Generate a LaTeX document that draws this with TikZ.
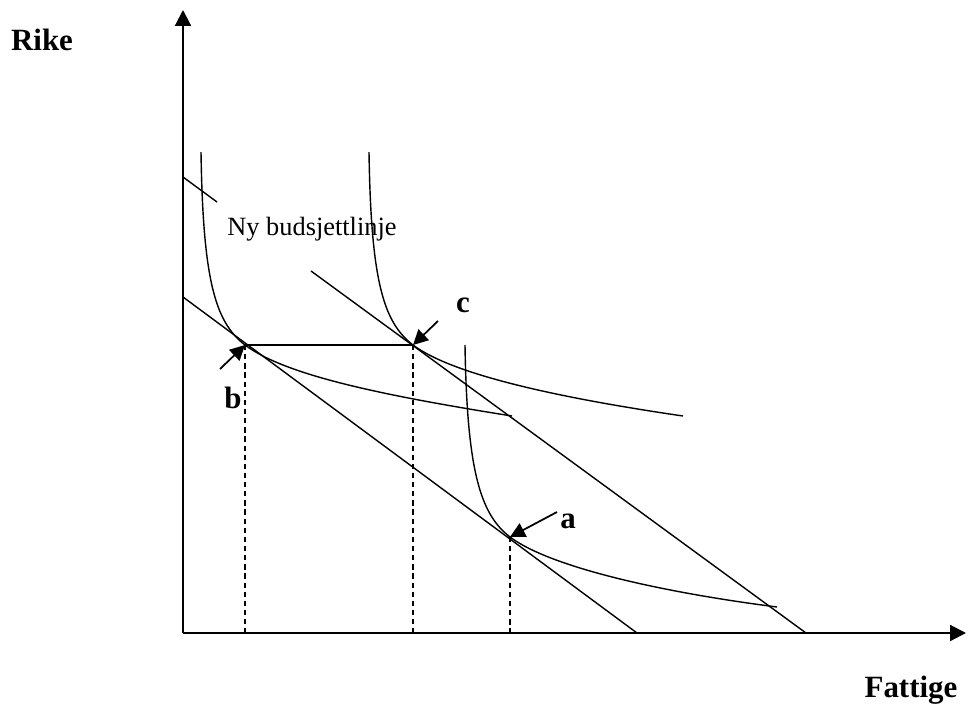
\documentclass[tikz,border=0pt]{standalone}
\usepackage{fontspec}
\setmainfont{Liberation Serif}
\usetikzlibrary{arrows.meta}

\begin{document}
\begin{tikzpicture}[x=0.02cm,y=-0.02cm,
	axis/.style={line width=1.2pt,-{Triangle[length=9pt,width=9pt]}},
	curve/.style={line width=0.8pt},
	guide/.style={line width=0.8pt,dash pattern=on 3pt off 2.2pt},
	pointer/.style={line width=1pt,-{Triangle[length=8.5pt,width=8.5pt]}},
	boldlabel/.style={anchor=base,font=\fontsize{17.6}{20}\selectfont\bfseries},
	linelabel/.style={anchor=base,font=\fontsize{15}{18}\selectfont}]
			\useasboundingbox (0,0) rectangle (968,704);
			% axes
			\coordinate (O) at (183,633);
			\coordinate (ytop) at (183,10);
			\coordinate (xend) at (966,633);
			\draw[axis] (O) -- (ytop);
			\draw[axis] (O) -- (xend);
			\node[boldlabel](rike) at (42,50){Rike};
			\node[boldlabel](fattige) at (911,697){Fattige};
			% tangency points
			\coordinate (b) at (245,345);
			\coordinate (c) at (413,345);
			\coordinate (a) at (510,537);
			\coordinate (bf) at (245,633);
			\coordinate (cf) at (413,633);
			\coordinate (af) at (510,633);
			% budget lines
			\coordinate (old1) at (183,297);
			\coordinate (old2) at (637,633);
			\coordinate (new1) at (183,177);
			\coordinate (new2) at (217,202);
			\coordinate (new3) at (311,271);
			\coordinate (new4) at (806,633);
			\draw[curve] (old1) -- (old2);
			\draw[curve] (new1) -- (new2);
			\draw[curve] (new3) -- (new4);
			\node[linelabel](nylinje) at (312,235){Ny budsjettlinje};
			% indifference curves
			\coordinate (i1top) at (201,152);
			\coordinate (i1end) at (512,416);
			\coordinate (i2top) at (369,152);
			\coordinate (i2end) at (683,416);
			\coordinate (i3top) at (465,345);
			\coordinate (i3end) at (777,607);
			\draw[curve] (i1top) .. controls (203,280) and (215,322) .. (b)
				.. controls (285,375) and (380,395) .. (i1end);
			\draw[curve] (i2top) .. controls (371,280) and (383,322) .. (c)
				.. controls (453,375) and (560,398) .. (i2end);
			\draw[curve] (i3top) .. controls (467,470) and (480,514) .. (a)
				.. controls (550,567) and (660,592) .. (i3end);
			% links and guides
			\draw[curve] (b) -- (c);
			\draw[guide] (b) -- (bf);
			\draw[guide] (c) -- (cf);
			\draw[guide] (a) -- (af);
			% point labels
			\coordinate (tailb) at (220,369);
			\coordinate (tailc) at (438,321);
			\coordinate (taila) at (557,512);
			\draw[pointer] (tailb) -- (b);
			\draw[pointer] (tailc) -- (c);
			\draw[pointer] (taila) -- (a);
			\node[boldlabel](lb) at (233,408){b};
			\node[boldlabel](lc) at (463,312){c};
			\node[boldlabel](la) at (568,528){a};
\end{tikzpicture}
\end{document}
